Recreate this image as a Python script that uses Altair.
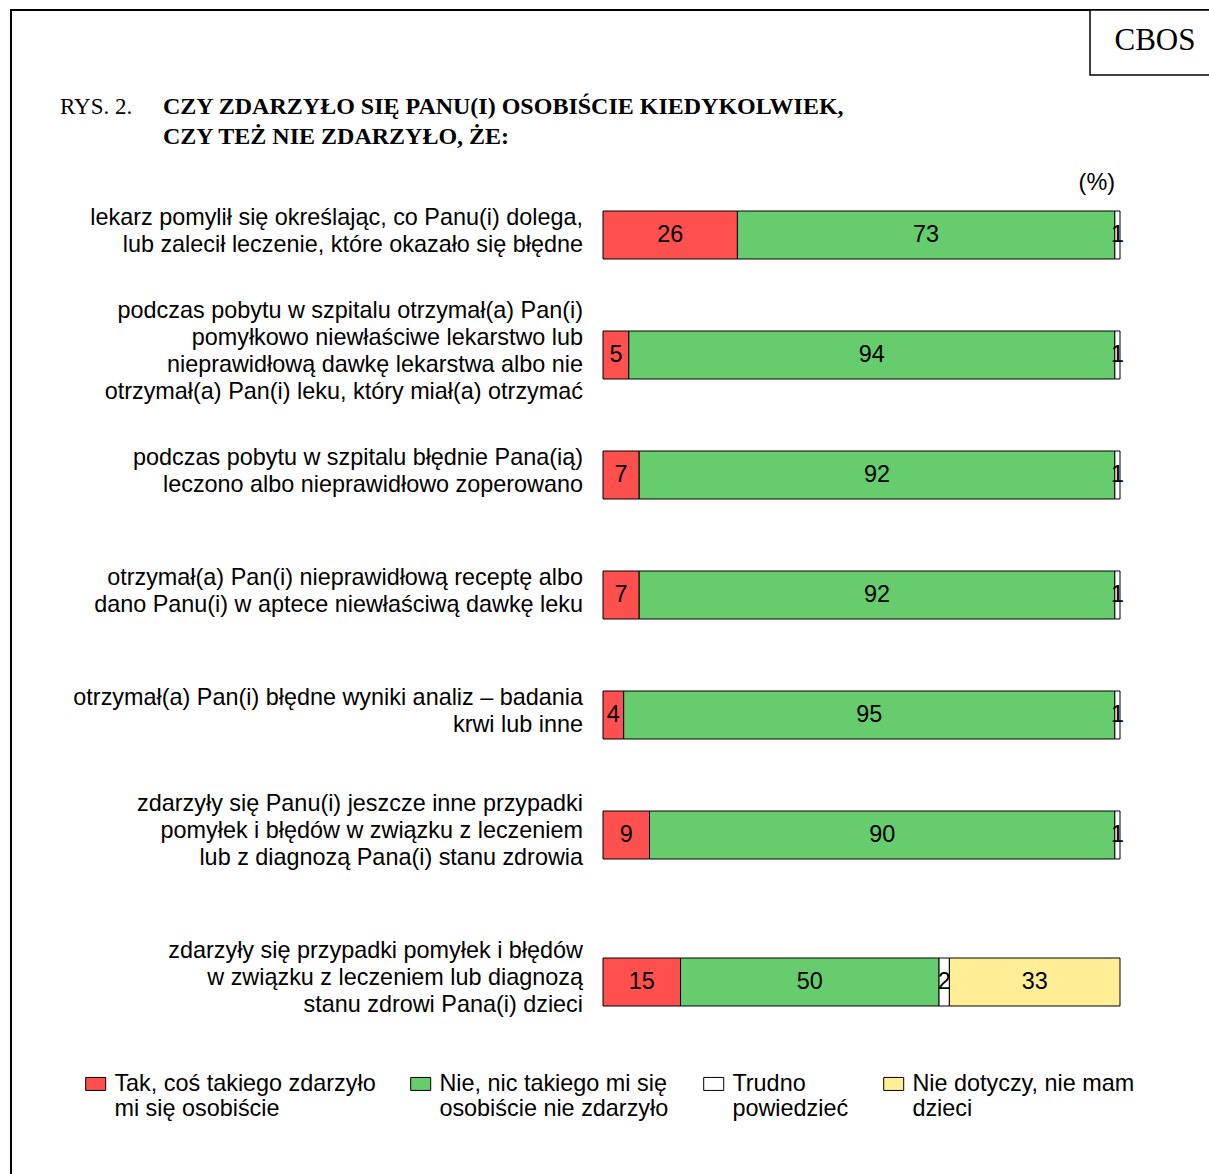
import altair as alt
import pandas as pd

questions = [
    "lekarz pomylił się określając, co Panu(i) dolega,\nlub zalecił leczenie, które okazało się błędne",
    "podczas pobytu w szpitalu otrzymał(a) Pan(i)\npomyłkowo niewłaściwe lekarstwo lub\nnieprawidłową dawkę lekarstwa albo nie\notrzymał(a) Pan(i) leku, który miał(a) otrzymać",
    "podczas pobytu w szpitalu błędnie Pana(ią)\nleczono albo nieprawidłowo zoperowano",
    "otrzymał(a) Pan(i) nieprawidłową receptę albo\ndano Panu(i) w aptece niewłaściwą dawkę leku",
    "otrzymał(a) Pan(i) błędne wyniki analiz – badania\nkrwi lub inne",
    "zdarzyły się Panu(i) jeszcze inne przypadki\npomyłek i błędów w związku z leczeniem\nlub z  diagnozą Pana(i) stanu zdrowia",
    "zdarzyły się przypadki pomyłek i błędów\nw związku z leczeniem lub diagnozą\nstanu zdrowi Pana(i) dzieci",
]
series = [
    "Tak, coś takiego zdarzyło\nmi się osobiście",
    "Nie, nic takiego mi się\nosobiście nie zdarzyło",
    "Trudno\npowiedzieć",
    "Nie dotyczy, nie mam\ndzieci",
]
tak = [26, 5, 7, 7, 4, 9, 15]
nie = [73, 94, 92, 92, 95, 90, 50]
trudno = [1, 1, 1, 1, 1, 1, 2]
nie_dotyczy = [0, 0, 0, 0, 0, 0, 33]
colors = ["#FF5050", "#66CC6E", "#FFFFFF", "#FFEE96"]

title_lines = ["CZY ZDARZYŁO SIĘ PANU(I) OSOBIŚCIE KIEDYKOLWIEK,", "CZY TEŻ NIE ZDARZYŁO, ŻE:"]

rows = []
for qi, q in enumerate(questions):
    for si, vals in enumerate([tak, nie, trudno, nie_dotyczy]):
        rows.append({"q": q, "qi": qi, "s": series[si], "si": si, "v": vals[qi]})
df = pd.DataFrame(rows)
qdf = pd.DataFrame({"q": questions, "qi": list(range(len(questions)))})

FONT = "Liberation Sans"
SERIF = "Liberation Serif"
FS = 23.4
LH = 27
BAND = 48

color = alt.Color(
    "s:N",
    scale=alt.Scale(domain=series, range=colors),
    legend=alt.Legend(
        title=None, orient="none", legendX=-519, legendY=1072,
        direction="horizontal", columns=4, columnPadding=32,
        symbolType="M-1,-0.65H1V0.65H-1Z", symbolSize=400,
        symbolStrokeColor="black", symbolStrokeWidth=1, symbolOpacity=1,
        labelFont=FONT, labelFontSize=FS, labelColor="black", labelOffset=7,
        labelLimit=400, labelExpr="split(datum.label, '\\n')",
        labelBaseline="middle", padding=0,
    ),
)
xscale = alt.Scale(domain=[0, 100])


def group(filt, order, yscale):
    base = (
        alt.Chart(df)
        .transform_filter(filt)
        .transform_stack(stack="v", groupby=["q"], as_=["x0", "x1"],
                         sort=[alt.SortField("si", order="ascending")])
        .transform_calculate(mid="(datum.x0 + datum.x1) / 2")
    )
    y = alt.Y("q:N", sort=order, scale=yscale, axis=None)
    bars = base.transform_filter("datum.v > 0").mark_bar(stroke="black", strokeWidth=1).encode(
        x=alt.X("x0:Q", scale=xscale, axis=None), x2="x1:Q", y=y, color=color
    )
    vals = base.transform_filter("datum.v > 0").mark_text(
        font=FONT, fontSize=FS, color="black", baseline="middle"
    ).encode(x=alt.X("mid:Q", scale=xscale, axis=None), y=y, text="v:Q")
    labels = (
        alt.Chart(qdf)
        .transform_filter(filt)
        .transform_calculate(
            off=f"{BAND / 2} - (length(split(datum.q, '\\n')) - 1) * {LH / 2}"
        )
        .mark_text(
            font=FONT, fontSize=FS, color="black", align="right", baseline="middle",
            lineBreak="\n", lineHeight=LH, dy=-4
        )
        .encode(x=alt.value(-20), y=y, yOffset=alt.YOffset("off:Q", scale=None), text="q:N")
    )
    return alt.layer(bars, vals, labels)


top = group("datum.qi < 6", questions[:6],
            alt.Scale(range=[175, 895], paddingInner=0.6, paddingOuter=0.3))
bottom = group("datum.qi >= 6", questions[6:],
               alt.Scale(range=[958, 1006], paddingInner=0, paddingOuter=0))
main = alt.layer(top, bottom).resolve_scale(y="independent")

one = pd.DataFrame({"a": [0]})
border = alt.Chart(one).mark_rect(fill="white", stroke="black", strokeWidth=2).encode(
    x=alt.value(-592), x2=alt.value(640), y=alt.value(10), y2=alt.value(1200)
)
cbos_box = alt.Chart(one).mark_rect(fill="white", stroke="black", strokeWidth=1.5).encode(
    x=alt.value(487), x2=alt.value(640), y=alt.value(10), y2=alt.value(75)
)
cbos = alt.Chart(pd.DataFrame({"t": ["CBOS"]})).mark_text(
    font=SERIF, fontSize=31, color="black", align="center", baseline="middle"
).encode(x=alt.value(552), y=alt.value(41), text="t:N")
rys = alt.Chart(pd.DataFrame({"t": ["RYS. 2."]})).mark_text(
    font=SERIF, fontSize=23, color="black", align="left", baseline="middle"
).encode(x=alt.value(-543), y=alt.value(107), text="t:N")
title = alt.Chart(pd.DataFrame({"t": ["\n".join(title_lines)]})).mark_text(
    font=SERIF, fontSize=24, fontWeight="bold", color="black", align="left",
    baseline="middle", lineBreak="\n", lineHeight=30
).encode(x=alt.value(-440), y=alt.value(107), text="t:N")
pct = alt.Chart(pd.DataFrame({"t": ["(%)"]})).mark_text(
    font=FONT, fontSize=FS, color="black", align="right", baseline="middle"
).encode(x=alt.value(512), y=alt.value(183), text="t:N")

chart = alt.layer(border, cbos_box, cbos, rys, title, pct, main).properties(
    width=517, height=1174,
    autosize=alt.AutoSizeParams(type="none"),
    padding={"left": 603, "right": 89, "top": 0, "bottom": 0},
    background="white",
).configure_view(strokeWidth=0)

chart.save("out.html", embed_options={"renderer": "svg", "actions": False})
